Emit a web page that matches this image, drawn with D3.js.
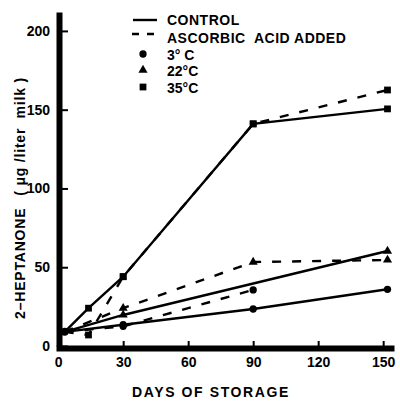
<!DOCTYPE html>
<html>
<head>
<meta charset="utf-8">
<script src="https://cdn.jsdelivr.net/npm/d3@7"></script>
<style>
  html, body { margin: 0; padding: 0; background: #fff; }
  svg { display: block; font-family: "Liberation Sans", Arial, sans-serif; font-weight: bold; }
</style>
</head>
<body>
<div id="chart"></div>
<script>
// shared starting sample (day, ppb)
const startPoint = [3, 9];

// control = solid, ascorbic acid added = dashed
const control3 = [[30, 13.5], [90, 23.5], [152, 36]];
const ascorbic3 = [[30, 12.5], [90, 35.6]];
const control22 = [[30, 19.7], [152, 60.3]];
const ascorbic22 = [[30, 24], [90, 53.3], [152, 54.6]];
const control35 = [[14, 24], [30, 44], [90, 141], [152, 150.5]];
const ascorbic35 = [[14, 7], [30, 44], [90, 141], [152, 162.5]];

const xTicks = [0, 30, 60, 90, 120, 150];
const yTicks = [0, 50, 100, 150, 200];

const legendLines = ["CONTROL", "ASCORBIC  ACID ADDED"];
const legendTemps = ["3° C", "22°C", "35°C"];

(() => {
    const width = 400, height = 401;

    const svg = d3.select("#chart").append("svg")
        .attr("width", width)
        .attr("height", height);

    const x = d3.scaleLinear().domain([-1, 155]).range([56, 394]);
    const y = d3.scaleLinear().domain([0, 212]).range([346, 12]);

    const series = [
        { pts: control35, dashed: false, shape: "square" },
        { pts: ascorbic35, dashed: true, shape: "square" },
        { pts: control22, dashed: false, shape: "triangle" },
        { pts: ascorbic22, dashed: true, shape: "triangle" },
        { pts: control3, dashed: false, shape: "circle" },
        { pts: ascorbic3, dashed: true, shape: "circle" }
    ];

    const symbolType = { circle: d3.symbolCircle, triangle: d3.symbolTriangle, square: d3.symbolSquare };
    const symbolSize = { circle: 42, triangle: 36, square: 46 };

    const line = d3.line().x(d => x(d[0])).y(d => y(d[1]));

    // lines
    svg.append("g").selectAll("path")
        .data(series)
        .join("path")
        .attr("d", s => line([startPoint, ...s.pts]))
        .attr("fill", "none")
        .attr("stroke", "#000")
        .attr("stroke-width", 2.4)
        .attr("stroke-dasharray", s => s.dashed ? "9,11" : null);

    // markers
    const marks = svg.append("g");
    series.forEach(s => {
        marks.selectAll(null)
            .data(s.pts)
            .join("path")
            .attr("transform", d => `translate(${x(d[0])},${y(d[1])})`)
            .attr("d", d3.symbol().type(symbolType[s.shape]).size(symbolSize[s.shape]))
            .attr("fill", "#000");
    });
    marks.append("path")
        .attr("transform", `translate(${x(startPoint[0])},${y(startPoint[1])})`)
        .attr("d", d3.symbol().type(d3.symbolCircle).size(50))
        .attr("fill", "#000");

    // axes
    const yAxis = svg.append("g")
        .attr("transform", `translate(${x(-1) + 3},0)`)
        .call(d3.axisLeft(y).tickValues(yTicks).tickSizeInner(-9).tickSizeOuter(0).tickPadding(9));
    const xAxis = svg.append("g")
        .attr("transform", `translate(0,${y(0) + 2})`)
        .call(d3.axisBottom(x).tickValues(xTicks).tickSizeInner(-7).tickSizeOuter(0).tickPadding(9));

    [yAxis, xAxis].forEach(a => {
        a.select(".domain").attr("stroke", "#000").attr("stroke-width", 6);
        a.selectAll(".tick line").attr("stroke", "#000").attr("stroke-width", 2);
        a.selectAll(".tick text").attr("fill", "#000")
            .style("font-size", "14px").style("font-weight", "bold")
            .style("font-family", "'Liberation Sans', Arial, sans-serif");
    });

    // axis titles
    svg.append("text")
        .attr("x", 211).attr("y", 397)
        .attr("text-anchor", "middle")
        .style("font-size", "14px")
        .style("letter-spacing", "1.6px")
        .text("DAYS OF STORAGE");

    const yt = svg.append("text")
        .attr("transform", "translate(25,198) rotate(-90)")
        .attr("text-anchor", "middle")
        .style("font-size", "14px")
        .style("letter-spacing", "0.8px")
        .style("white-space", "pre");
    yt.append("tspan").text("2–HEPTANONE");
    yt.append("tspan").attr("dx", 12).text("( μg /liter  milk )");

    // legend
    const lg = svg.append("g");
    const lx0 = 133, lx1 = 157, tx = 167;
    lg.append("line").attr("x1", lx0).attr("x2", lx1).attr("y1", 20).attr("y2", 20)
        .attr("stroke", "#000").attr("stroke-width", 2.4);
    lg.append("line").attr("x1", lx0 - 1).attr("x2", lx1 - 2).attr("y1", 34).attr("y2", 34)
        .attr("stroke", "#000").attr("stroke-width", 2.4).attr("stroke-dasharray", "7,8");
    lg.selectAll(".ltext").data(legendLines).join("text")
        .attr("class", "ltext")
        .attr("x", tx).attr("y", (d, i) => 25 + i * 18)
        .style("font-size", "14px")
        .style("letter-spacing", "0.5px")
        .style("white-space", "pre")
        .text(d => d);

    const shapes = ["circle", "triangle", "square"];
    const rowY = [54, 70, 87];
    lg.selectAll(".lsym").data(shapes).join("path")
        .attr("class", "lsym")
        .attr("transform", (d, i) => `translate(143,${rowY[i]})`)
        .attr("d", d => d3.symbol().type(symbolType[d]).size(symbolSize[d])())
        .attr("fill", "#000");
    lg.selectAll(".ttext").data(legendTemps).join("text")
        .attr("class", "ttext")
        .attr("x", tx).attr("y", (d, i) => rowY[i] + 5.5)
        .style("font-size", "14px")
        .style("white-space", "pre")
        .text(d => d);
})();
</script>
</body>
</html>
